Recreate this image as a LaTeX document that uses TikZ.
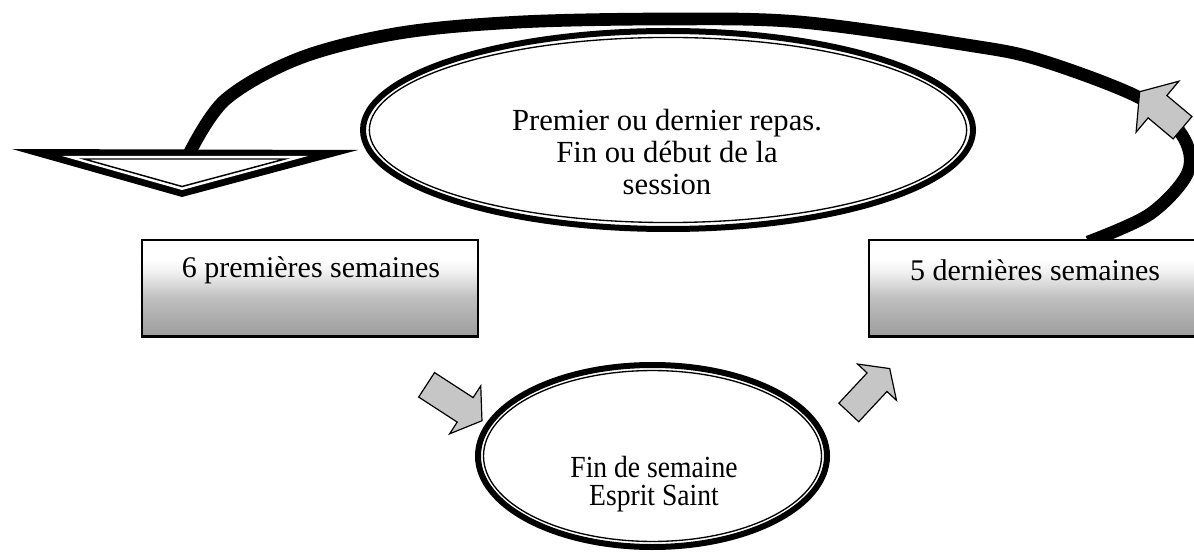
\documentclass[tikz,border=0pt]{standalone}
\usepackage{fontspec}
\setmainfont{Liberation Serif}
\newfontfamily\narrowB[FakeStretch=0.9]{Liberation Serif}
\usetikzlibrary{shapes.geometric,shapes.arrows}
\pgfdeclareverticalshading{boxshade}{100bp}{color(0bp)=(black!50); color(20bp)=(black!42); color(45bp)=(black!25); color(58bp)=(black!6); color(65bp)=(white); color(100bp)=(white)}
\begin{document}
\begin{tikzpicture}[x=0.75pt,y=-0.75pt,
  bigline/.style={line width=9.5pt},
  ringnode/.style={ellipse, draw, line width=4.5pt, fill=white, inner sep=0pt},
  innerring/.style={line width=1pt},
  photobox/.style={rectangle, draw, line width=0.8pt, shade, shading=boxshade, inner sep=0pt},
  blockarrow/.style={single arrow, draw, line width=0.9pt, fill=gray!45, inner xsep=0pt, text height=0pt, text depth=0pt, text width=0pt, single arrow tip angle=110},
  bigtxt/.style={font=\fontsize{23}{24}\selectfont, align=center, inner sep=0pt},
  boxtxt/.style={font=\fontsize{22.5}{24}\selectfont, align=center, inner sep=0pt},
  smalltxt/.style={font=\narrowB\fontsize{23}{21}\selectfont, align=center, inner sep=0pt}
]
\useasboundingbox[fill=white] (0,0) rectangle (1194,559);

% big return arc
\coordinate (arcstart) at (1088,242);
\coordinate (arcend) at (188,156);
\draw[bigline] plot[smooth, tension=0.55] coordinates {(arcstart) (1150,214) (1188,172) (1182,135) (1140,98) (1040,60) (967,45) (800,22) (668,19) (520,22) (400,33) (300,58) (225,100) (arcend)};

% top ellipse
\node[ringnode, minimum width=457.5pt, minimum height=148.5pt] (topell) at (668,130) {};
\draw[innerring] (topell.center) ellipse [x radius=224pt, y radius=69.4pt];
\node[bigtxt] (toptxt) at (667,152) {Premier ou dernier repas.\\Fin ou début de la\\session};

% triangular arrow head at the end of the arc
\fill (12,149) -- (358,150) -- (182,197) -- cycle;
\fill[white] (62,156) -- (308,156) -- (182,190) -- cycle;
\draw[line width=1.1pt] (84,159) -- (285,159) -- (182,186.5) -- cycle;

% boxes
\node[photobox, minimum width=252pt, minimum height=72pt] (lbox) at (310,288) {};
\draw[line width=2pt] (lbox.south west) -- (lbox.south east);
\node[boxtxt] (ltxt) at (311,270) {6 premières semaines};

\node[photobox, minimum width=248.25pt, minimum height=72pt] (rbox) at (1034.5,288) {};
\draw[line width=2pt] (rbox.south west) -- (rbox.south east);
\node[boxtxt] (rtxt) at (1035,270) {5 dernières semaines};

% bottom ellipse
\node[ringnode, minimum width=261.75pt, minimum height=136.5pt] (botell) at (652.5,456) {};
\draw[innerring] (botell.center) ellipse [x radius=126.75pt, y radius=64.1pt];
\node[smalltxt] (bottxt) at (654,484) {Fin de semaine\\Esprit Saint};

% block arrows
\node[blockarrow, minimum height=49.5pt, inner ysep=10.5pt, single arrow head extend=10.5pt, rotate=-33] (arrA) at (450,400) {};
\node[blockarrow, minimum height=45pt, inner ysep=9.75pt, single arrow head extend=9.75pt, rotate=47] (arrB) at (866,394) {};
\node[blockarrow, minimum height=42pt, inner ysep=10.5pt, single arrow head extend=14pt, rotate=140] (arrC) at (1165,113) {};
\end{tikzpicture}
\end{document}
